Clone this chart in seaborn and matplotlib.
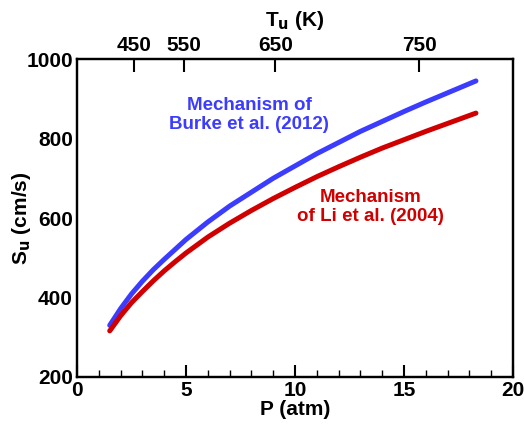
import matplotlib
matplotlib.use("Agg")
import matplotlib.pyplot as plt
import seaborn as sns
import pandas as pd
from matplotlib.ticker import MultipleLocator

# Data
pressure = [1.5, 2.0, 2.5, 3.0, 3.5, 4.0, 4.5, 5.0, 6.0, 7.0, 8.0, 9.0, 10.0,
            11.0, 12.0, 13.0, 14.0, 15.0, 16.0, 17.0, 18.3]
su_burke = [330, 372, 409, 441, 470, 496, 521, 546, 590, 630, 665, 700, 731,
            762, 790, 818, 843, 868, 892, 915, 945]
su_li = [316, 354, 387, 415, 442, 467, 490, 512, 552, 587, 619, 649, 677,
         704, 729, 753, 776, 797, 818, 838, 864]
top_tick_pos = [2.6, 4.9, 9.1, 15.7]
top_tick_labels = ["450", "550", "650", "750"]

df = pd.concat([
    pd.DataFrame({"P": pressure, "Su": su_burke, "mech": "Burke"}),
    pd.DataFrame({"P": pressure, "Su": su_li, "mech": "Li"}),
])

sns.set_style("white")
plt.rcParams["font.family"] = ["Liberation Sans", "DejaVu Sans"]
plt.rcParams["font.weight"] = "bold"
plt.rcParams["text.color"] = "black"
plt.rcParams["axes.labelcolor"] = "black"
plt.rcParams["xtick.color"] = "black"
plt.rcParams["ytick.color"] = "black"

blue = "#3c3cff"
red = "#d00000"
fs = 15

fig = plt.figure(figsize=(5.24, 4.25), dpi=100)
ax = fig.add_axes([0.147, 0.113, 0.832, 0.748])
sns.lineplot(data=df, x="P", y="Su", hue="mech", palette={"Burke": blue, "Li": red},
             linewidth=3.6, legend=False, ax=ax, solid_capstyle="round")

ax.set_xlim(0, 20)
ax.set_ylim(200, 1000)
ax.xaxis.set_major_locator(MultipleLocator(5))
ax.xaxis.set_minor_locator(MultipleLocator(1))
ax.yaxis.set_major_locator(MultipleLocator(200))
ax.yaxis.set_minor_locator(MultipleLocator(50))
ax.tick_params(which="both", direction="in", top=False, right=False, width=1.5,
               labelsize=fs, pad=3)
ax.tick_params(which="major", length=9)
ax.tick_params(which="minor", length=5, width=1.0)
for lab in ax.get_xticklabels() + ax.get_yticklabels():
    lab.set_fontweight("bold")
for s in ax.spines.values():
    s.set_linewidth(1.6)
    s.set_color("black")

ax.set_xlabel("P (atm)", fontsize=fs, fontweight="bold", labelpad=0)
ax.set_ylabel("S$_\\mathbf{u}$ (cm/s)", fontsize=fs, fontweight="bold")
ax.yaxis.set_label_coords(-0.10, 0.5)

ax2 = ax.twiny()
ax2.set_xlim(ax.get_xlim())
ax2.set_xticks(top_tick_pos)
ax2.set_xticklabels(top_tick_labels, fontsize=fs, fontweight="bold")
ax2.tick_params(direction="in", length=9, width=1.5, pad=3, colors="black")
for s in ax2.spines.values():
    s.set_linewidth(1.6)
    s.set_color("black")
ax2.set_xlabel("T$_\\mathbf{u}$ (K)", fontsize=fs, fontweight="bold", labelpad=7)

ax.text(7.9, 859, "Mechanism of\nBurke et al. (2012)", color=blue, fontsize=13.5,
        fontweight="bold", ha="center", va="center", linespacing=1.1)
ax.text(13.45, 628, "Mechanism\nof Li et al. (2004)", color=red, fontsize=13.5,
        fontweight="bold", ha="center", va="center", linespacing=1.1)

fig.savefig("out.png", dpi=100)
